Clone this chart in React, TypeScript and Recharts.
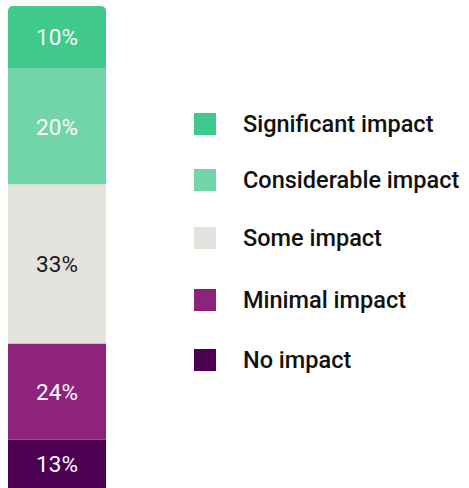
import { BarChart, Bar, XAxis, YAxis, LabelList } from "recharts";

// bottom-to-top stack order
const categories = ["No impact", "Minimal impact", "Some impact", "Considerable impact", "Significant impact"];
// segment heights as drawn (percent of the bar)
const shares = [10, 20, 33, 24, 13];
// text printed on each segment
const labels = ["13%", "24%", "33%", "20%", "10%"];
const colors = ["#4b0052", "#8e237b", "#e3e2dc", "#72d5a9", "#3fca8b"];
const labelColors = ["#ffffff", "#ffffff", "#1a1a1a", "#ffffff", "#ffffff"];

const FONT = "Roboto, 'DejaVu Sans', sans-serif";

const row: Record<string, number | string> = { name: "impact" };
categories.forEach((c, i) => {
  row[c] = shares[i];
});
const data = [row];

function ImpactLegend() {
  const order = [...categories.keys()].reverse();
  const tops = [113, 169, 227, 289, 349];
  return (
    <div style={{ position: "absolute", left: 194, top: 0, width: 275, height: 488 }}>
      {order.map((idx, j) => (
        <div
          key={categories[idx]}
          style={{
            position: "absolute",
            left: 0,
            top: tops[j],
            display: "flex",
            alignItems: "center",
            height: 22,
          }}
        >
          <div style={{ width: 22, height: 22, background: colors[idx] }} />
          <span
            style={{
              marginLeft: 27,
              fontFamily: FONT,
              fontSize: 23.5,
              fontWeight: 500,
              color: "#111",
              whiteSpace: "nowrap",
            }}
          >
            {categories[idx]}
          </span>
        </div>
      ))}
    </div>
  );
}

export default function App() {
  return (
    <div style={{ position: "absolute", left: 0, top: 0, width: 469, height: 488, background: "#fff" }}>
      <BarChart
        width={469}
        height={488}
        data={data}
        margin={{ top: 6, left: 8, right: 363, bottom: 0 }}
        barCategoryGap={0}
      >
        <XAxis dataKey="name" hide />
        <YAxis hide domain={[0, 100]} />
        {categories.map((c, i) => (
          <Bar
            key={c}
            dataKey={c}
            stackId="a"
            fill={colors[i]}
            isAnimationActive={false}
            radius={i === categories.length - 1 ? [5, 5, 0, 0] : 0}
          >
            <LabelList
              position="center"
              content={(p: any) => (
                <text
                  x={p.x + p.width / 2}
                  y={p.y + p.height / 2}
                  textAnchor="middle"
                  dominantBaseline="central"
                  fill={labelColors[i]}
                  style={{ fontFamily: FONT, fontSize: 22.5 }}
                >
                  {labels[i]}
                </text>
              )}
            />
          </Bar>
        ))}
      </BarChart>
      <ImpactLegend />
    </div>
  );
}
